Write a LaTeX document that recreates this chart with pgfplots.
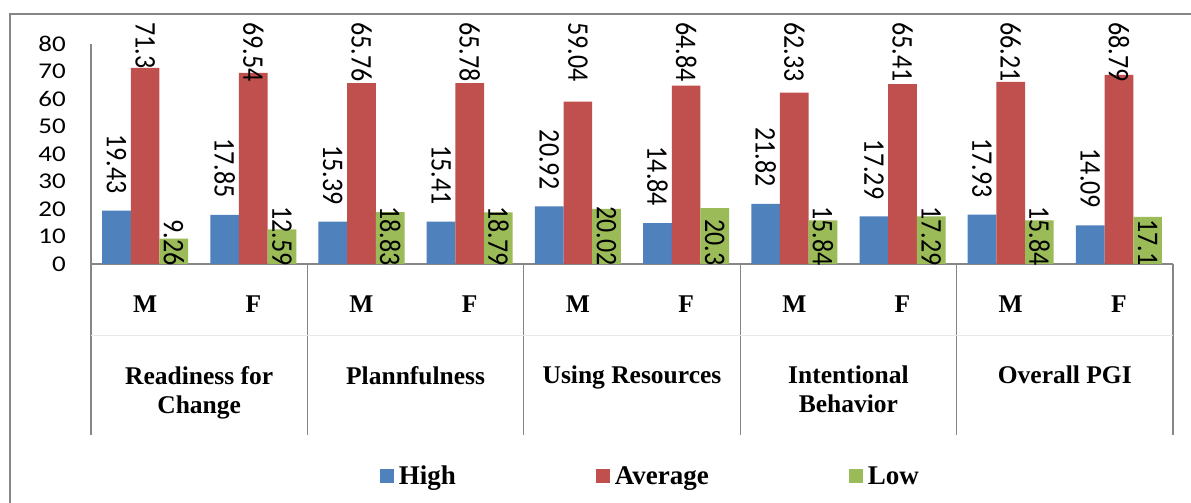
\documentclass[border=0pt]{standalone}
\usepackage{fontspec}
\setmainfont{Liberation Serif}
\newfontfamily\tickfont[FakeStretch=1.2]{Carlito}
\newfontfamily\lblfont{Carlito}
\usepackage{graphicx}
\usepackage{pgfplots}
\pgfplotsset{compat=1.18}
\usepackage{pgfplotstable}
\definecolor{cHigh}{HTML}{4F81BD}
\definecolor{cAvg}{HTML}{C0504D}
\definecolor{cLow}{HTML}{9BBB59}
\definecolor{axgray}{RGB}{134,134,134}

\pgfplotstableread{
x high avg low
0 19.43 71.3 9.26
1 17.85 69.54 12.59
2 15.39 65.76 18.83
3 15.41 65.78 18.79
4 20.92 59.04 20.02
5 14.84 64.84 20.3
6 21.82 62.33 15.84
7 17.29 65.41 17.29
8 17.93 66.21 15.84
9 14.09 68.79 17.1
}\data

\pgfplotsset{
  lbl/.style={
    nodes near coords={\scalebox{1}[1.15]{\pgfplotspointmeta}},
    point meta=explicit symbolic,
    every node near coord/.append style={rotate=-90, font=\lblfont\fontsize{26}{26}\selectfont, inner sep=0pt, text=black},
  },
}
\tikzset{
  catlabel/.style={anchor=north, yshift=-102pt, align=center, inner sep=0pt,
    font=\bfseries\fontsize{25.5}{29}\selectfont},
}

\begin{document}
\begin{tikzpicture}
\useasboundingbox (0,0) rectangle (1191pt,503pt);
\fill[white] (0,0) rectangle (1191pt,503pt);
\draw[axgray, line width=1.3pt] (10pt,-20pt) -- (10pt,489pt) -- (1220pt,489pt);
\begin{axis}[
  at={(91pt,239pt)}, anchor=south west,
  scale only axis, width=1082pt, height=220pt,
  xmin=-0.5, xmax=9.5, ymin=0, ymax=80,
  clip=false,
  axis x line*=bottom, axis y line*=left,
  axis line style={axgray, line width=1.2pt},
  ytick={0,10,...,80},
  yticklabel style={font=\tickfont\fontsize{22.5}{22.5}\selectfont, inner sep=0pt, xshift=-25pt, anchor=east},
  /pgf/number format/assume math mode=true,
  xtick={0,...,9},
  xticklabels={M,F,M,F,M,F,M,F,M,F},
  xticklabel style={font=\bfseries\fontsize{25.5}{25.5}\selectfont, inner sep=0pt, anchor=north, yshift=-32pt},
  minor xtick={-0.5,1.5,3.5,5.5,7.5,9.5},
  major tick length=0pt,
  minor tick length=171pt,
  tick align=outside,
  minor tick style={axgray, line width=1.2pt},
  legend columns=3,
  legend style={at={(0.2668,-0.9636)}, anchor=west, draw=none, fill=none, inner sep=0pt,
    font=\bfseries\fontsize{27}{27}\selectfont,
    nodes={inner sep=1pt},
    /tikz/every odd column/.append style={column sep=4pt},
    /tikz/every even column/.append style={column sep=139pt}},
  legend image code/.code={\fill[#1] (0pt,-7pt) rectangle (14pt,7pt);},
]
\addplot[ybar, bar width=0.265, bar shift=-0.265, fill=cHigh, draw=none]
  table[x=x, y=high] {\data};
\addplot[ybar, bar width=0.265, bar shift=0, fill=cAvg, draw=none]
  table[x=x, y=avg] {\data};
\addplot[ybar, bar width=0.265, bar shift=0.265, fill=cLow, draw=none]
  table[x=x, y=low] {\data};
\legend{High,Average,Low}
% labels of High, above the bars
\addplot[forget plot, draw=none, mark=none, lbl, every node near coord/.append style={anchor=east, inner xsep=17pt}]
  table[x expr=\thisrow{x}-0.265, y=high, meta=high] {\data};
% labels of Average, pinned at the top
\addplot[forget plot, draw=none, mark=none, lbl, every node near coord/.append style={anchor=west}]
  table[x=x, y expr=88, meta=avg] {\data};
% labels of Low, pinned at the bottom
\addplot[forget plot, draw=none, mark=none, lbl, every node near coord/.append style={anchor=east}]
  table[x expr=\thisrow{x}+0.265, y expr=-0.6, meta=low] {\data};
% faint line between label rows
\draw[gray!18, line width=0.8pt] (axis cs:-0.5,0) ++(0pt,-71pt) -- ++(1082pt,0pt);
\node[catlabel] at (axis cs:0.5,0) {Readiness for\\Change};
\node[catlabel] at (axis cs:2.5,0) {Plannfulness};
\node[catlabel] at (axis cs:4.5,0) {Using Resources};
\node[catlabel] at (axis cs:6.5,0) {Intentional\\Behavior};
\node[catlabel] at (axis cs:8.5,0) {Overall PGI};
\end{axis}
\end{tikzpicture}
\end{document}
